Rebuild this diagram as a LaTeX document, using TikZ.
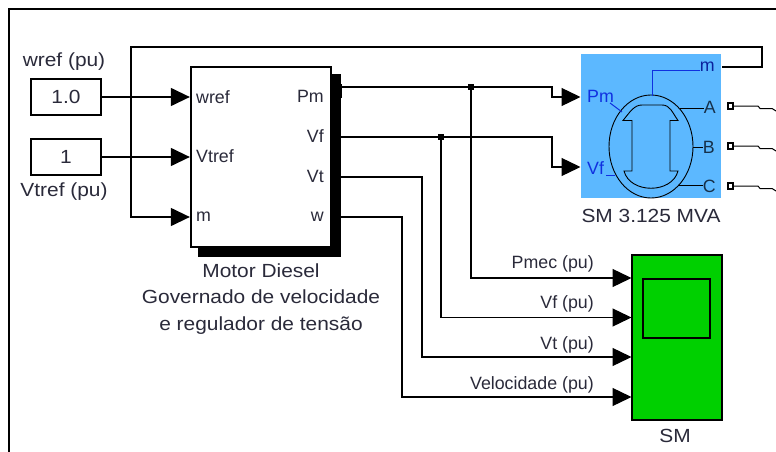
\documentclass[tikz,border=0pt]{standalone}
\usepackage{fontspec}
\setmainfont{Liberation Sans}
\newfontfamily\widefont[FakeStretch=1.1]{Liberation Sans}
\usepackage{xcolor}
\usepackage{tikz}
\usetikzlibrary{arrows.meta,positioning,calc}
\definecolor{machineblue}{HTML}{5CB8FF}
\definecolor{scopegreen}{HTML}{00D000}
\definecolor{portblue}{HTML}{1030E0}
\definecolor{portdark}{HTML}{16304A}
\definecolor{labelgray}{HTML}{2A2A3A}
\tikzset{
  wire/.style={line width=1.3pt,black},
  signal/.style={wire,-{Triangle[length=19pt,width=18pt]},shorten >=0.5pt},
  block/.style={draw=black,line width=1.3pt,inner sep=0pt,minimum width=#1},
  txt/.style={font=\fontsize{17.8}{20}\selectfont,text=labelgray,inner sep=0pt},
  widetxt/.style={font=\widefont\fontsize{19}{26.5}\selectfont,text=labelgray,inner sep=0pt},
  junction/.style={fill=black,inner sep=0pt,minimum size=5.5pt},
  terminal/.style={draw=black,fill=white,line width=1.8pt,inner sep=0pt,minimum size=5.5pt}
}
\begin{document}
\begin{tikzpicture}[x=1pt,y=-1pt]
    \useasboundingbox (0,0) rectangle (776,452);
    \fill[white] (0,0) rectangle (776,452);
    % outer frame
    \draw[line width=1.5pt] (9,452) -- (9,9) -- (776,9);
    % source blocks
    \node[block=70pt,minimum height=36pt,widetxt] (wrefbox) at (66,97) {1.0};
    \node[block=70pt,minimum height=36pt,widetxt] (vtrefbox) at (66,157) {1};
    \node[widetxt] (wreflabel) at (64,62) {wref (pu)};
    \node[widetxt] (vtreflabel) at (64,192) {Vtref (pu)};
    % diesel block and its shadow
    \fill[black] (198,74) rectangle (341,257);
    \fill[black] (335,84) rectangle (342,98);
    \node[block=140pt,minimum height=180pt,fill=white] (diesel) at (261,157) {};
    \node[txt,anchor=west] (dwref) at (196,97) {wref};
    \node[txt,anchor=west] (dvtref) at (196,156) {Vtref};
    \node[txt,anchor=west] (dm) at (196,217) {m};
    \node[txt,anchor=east] (dpm) at (324,96) {Pm};
    \node[txt,anchor=east] (dvf) at (324,136) {Vf};
    \node[txt,anchor=east] (dvt) at (324,176) {Vt};
    \node[txt,anchor=east] (dw) at (324,217) {w};
    \node[widetxt,align=center] (diesellabel) at (261,299) {Motor Diesel\\Governado de velocidade\\e regulador de tensão};
    % machine block
    \node[fill=machineblue,inner sep=0pt,minimum width=140pt,minimum height=144pt] (machine) at (651,126) {};
    \draw[wire,line width=0.9pt] (651,146.5) ellipse [x radius=42,y radius=51.5];
    \draw[wire,line width=0.9pt] (623,120.5) .. controls (630,112) and (634,105) .. (642,105) -- (662,105)
       .. controls (670,105) and (672,112) .. (678,120.5) -- (670,120.5) -- (670,171) -- (678,171)
       .. controls (672,194) and (630,194) .. (624,171) -- (632,171) -- (632,120.5) -- cycle;
    \node[txt,anchor=west,text=portblue] (mpm) at (587,96) {Pm};
    \node[txt,anchor=west,text=portblue] (mvf) at (587,168) {Vf};
    \node[txt,anchor=east,text=portblue!70!black] (mm) at (715,67) {m};
    \node[txt,anchor=east,text=portdark] (ma) at (716,107) {A};
    \node[txt,anchor=east,text=portdark] (mb) at (715,147) {B};
    \node[txt,anchor=east,text=portdark] (mc) at (716,186) {C};
    \node[widetxt] (machinelabel) at (651,216) {SM 3.125 MVA};
    \draw[portblue,line width=1pt] (652,96) -- (652,70.5) -- (mm.west |- 0,70.5);
    \draw[portblue,line width=1pt] (610,103) -- (622,112);
    \draw[portblue,line width=1pt] (606,175) -- (615,175);
    \draw[wire,line width=0.9pt] (680,108) -- (ma.west |- 0,108);
    \draw[wire,line width=0.9pt] (693,147) -- (mb.west |- 0,147);
    \draw[wire,line width=0.9pt] (678,185) -- (mc.west |- 0,185);
    % terminals
    \foreach \name/\y in {a/106,b/146,c/186}{
      \node[terminal] (term\name) at (730.5,\y) {};
      \coordinate (free\name) at (776,\y+5);
      \draw[wire,line width=1pt] (term\name) -- (758,\y) -- (760,\y+2.5) -- (772,\y+2.5) -- (free\name);
    }
    % scope block
    \node[block=90pt,minimum height=165pt,fill=scopegreen] (scope) at (677,337.5) {};
    \node[block=67pt,minimum height=59pt] (screen) at (676.5,308.5) {};
    \node[widetxt] (scopelabel) at (675,436) {SM};
    % connectors
    \coordinate (dieselin) at (diesel.west);
    \draw[signal] (wrefbox) ++(35,0) -- (dieselin |- wrefbox);
    \draw[signal] (vtrefbox) ++(35,0) -- (dieselin |- vtrefbox);
    \coordinate (feedback) at (722,67);
    \coordinate (dieselout) at (341,0);
    \coordinate (machinein) at (581,0);
    \coordinate (scopein) at (632,0);
    \draw[signal] (feedback) -- (762,67) -- (762,47) -- (131,47) -- (131,217) -- (dieselin |- 0,217);
    \draw[signal] (dieselout |- 0,87) -- (552,87) -- (552,97) -- (machinein |- 0,97);
    \draw[signal] (dieselout |- 0,137) -- (552,137) -- (552,167) -- (machinein |- 0,167);
    \node[junction] (jpm) at (471,87) {};
    \node[junction] (jvf) at (441,137) {};
    \draw[signal] (jpm) -- (471,278) -- (scopein |- 0,278);
    \draw[signal] (jvf) -- (441,317.5) -- (scopein |- 0,317.5);
    \draw[signal] (dieselout |- 0,177) -- (422,177) -- (422,357) -- (scopein |- 0,357);
    \draw[signal] (dieselout |- 0,217) -- (402,217) -- (402,397) -- (scopein |- 0,397);
    % signal labels
    \node[txt,anchor=east] (lpmec) at (594,264) {Pmec (pu)};
    \node[txt,anchor=east] (lvf) at (594,304) {Vf (pu)};
    \node[txt,anchor=east] (lvt) at (594,345) {Vt (pu)};
    \node[txt,anchor=east] (lvel) at (594,385) {Velocidade (pu)};
\end{tikzpicture}
\end{document}
